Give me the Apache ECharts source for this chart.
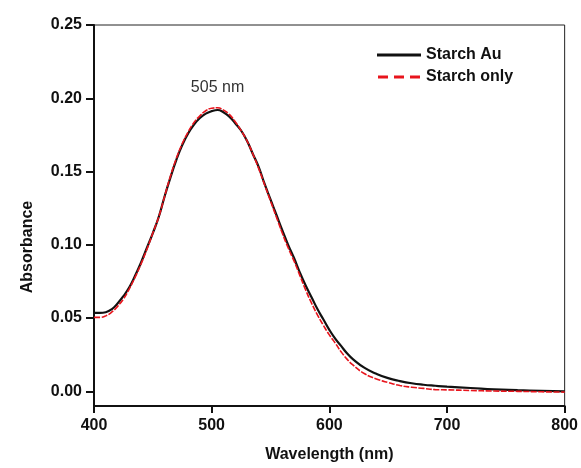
<!DOCTYPE html>
<html>
<head>
<meta charset="utf-8">
<script src="https://cdn.jsdelivr.net/npm/echarts@6/dist/echarts.min.js"></script>
<style>html,body{margin:0;padding:0;background:#fff}#c{width:581px;height:468px}</style>
</head>
<body>
<div id="c"></div>
<script>
const wavelengths = [400,405,410,415,420,425,430,435,440,445,450,455,460,465,470,475,480,485,490,495,500,505,510,515,520,525,530,535,540,545,550,555,560,565,570,575,580,585,590,595,600,605,610,615,620,630,640,650,660,670,680,690,700,720,740,760,780,800];
const starchAu = [0.0535,0.0535,0.054,0.056,0.060,0.065,0.071,0.079,0.088,0.098,0.108,0.119,0.133,0.146,0.158,0.168,0.176,0.182,0.1865,0.1895,0.1912,0.192,0.1905,0.1875,0.183,0.178,0.171,0.162,0.153,0.1415,0.131,0.1205,0.110,0.100,0.091,0.081,0.072,0.064,0.056,0.049,0.042,0.036,0.031,0.026,0.022,0.016,0.012,0.009,0.007,0.0055,0.0045,0.0038,0.0032,0.0023,0.0013,0.0008,0.0004,0.0];
const starchOnly = [0.0505,0.0505,0.0515,0.054,0.058,0.063,0.070,0.078,0.087,0.097,0.108,0.119,0.133,0.147,0.159,0.169,0.177,0.1835,0.188,0.1915,0.1932,0.1935,0.192,0.189,0.184,0.178,0.171,0.162,0.152,0.141,0.130,0.119,0.108,0.098,0.089,0.079,0.069,0.060,0.052,0.045,0.0385,0.033,0.027,0.022,0.018,0.012,0.0085,0.006,0.004,0.0028,0.002,0.0012,0.0010,0.0006,0.0002,0.0,-0.0003,-0.0005];
const yTicks = [0,0.05,0.10,0.15,0.20,0.25];
const seriesNames = ['Starch Au','Starch only'];
const peakLabel = '505 nm';
const peakWavelength = 505;

const chart = echarts.init(document.getElementById('c'), null, {renderer:'canvas'});
const font = 'Arial, "Liberation Sans", Helvetica, sans-serif';
chart.setOption({
  backgroundColor: '#fff',
  animation: false,
  grid: {left: 94, right: 16, top: 25, bottom: 61, show: true, borderColor: '#222', borderWidth: 1, backgroundColor: 'transparent'},
  legend: {
    orient: 'vertical', left: 377, top: 47, padding: 0, itemGap: 6,
    itemWidth: 44, itemHeight: 3,
    textStyle: {fontFamily: font, fontSize: 16, fontWeight: 'bold', color: '#111'},
    data: [
      {name: seriesNames[0], icon: 'path://M0,0H44V3H0Z'},
      {name: seriesNames[1], icon: 'path://M0,0H10V3H0ZM16,0H26V3H16ZM32,0H42V3H32Z'}
    ]
  },
  xAxis: {
    type: 'value', min: 400, max: 800, interval: 100,
    name: 'Wavelength (nm)', nameLocation: 'middle', nameGap: 41,
    nameTextStyle: {fontFamily: font, fontSize: 16, fontWeight: 'bold', color: '#111'},
    axisLine: {onZero: false, lineStyle: {color: '#111', width: 2}},
    axisTick: {show: true, length: 7, lineStyle: {color: '#111', width: 2}},
    axisLabel: {margin: 12, fontFamily: font, fontSize: 16, fontWeight: 'bold', color: '#111'},
    splitLine: {show: false}
  },
  yAxis: {
    type: 'value', min: -0.01, max: 0.25,
    axisLine: {show: true, onZero: false, lineStyle: {color: '#111', width: 2}},
    axisTick: {show: true, length: 8, customValues: yTicks, lineStyle: {color: '#111', width: 2}},
    axisLabel: {margin: 12, customValues: yTicks, fontFamily: font, fontSize: 16, fontWeight: 'bold', color: '#111',
      formatter: v => v.toFixed(2)},
    splitLine: {show: false}
  },
  graphic: [{
    type: 'text', x: 28, y: 247, rotation: Math.PI/2,
    style: {text: 'Absorbance', fontFamily: font, fontSize: 16, fontWeight: 'bold', fill: '#111', align: 'center', verticalAlign: 'middle'}
  }],
  series: [
    {
      name: seriesNames[0], type: 'line', smooth: 0.5, showSymbol: false, symbol: 'none',
      data: wavelengths.map((w,i) => [w, starchAu[i]]),
      lineStyle: {color: '#111', width: 2.2}, itemStyle: {color: '#111'},
      markPoint: {
        symbol: 'circle', symbolSize: 0,
        label: {show: true, position: 'inside', formatter: peakLabel, fontFamily: font, fontSize: 16, color: '#333'},
        data: [{coord: [peakWavelength, 0.207]}]
      }
    },
    {
      name: seriesNames[1], type: 'line', smooth: 0.5, showSymbol: false, symbol: 'none',
      data: wavelengths.map((w,i) => [w, starchOnly[i]]),
      lineStyle: {color: '#e8141c', width: 1.6, type: [6, 1.5]}, itemStyle: {color: '#e8141c'}
    }
  ]
});
</script>
</body>
</html>
